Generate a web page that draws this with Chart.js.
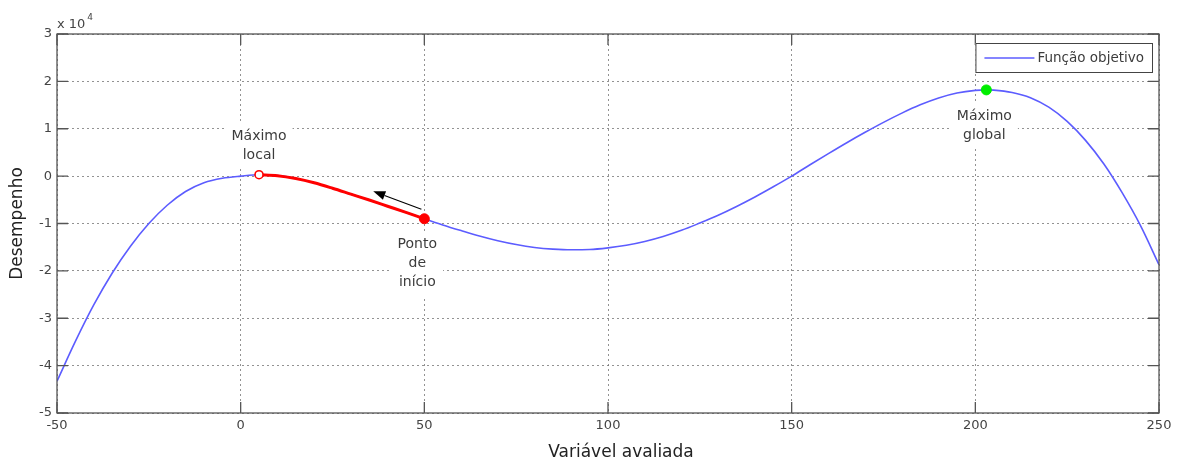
<!DOCTYPE html>
<html>
<head>
<meta charset="utf-8">
<script src="https://cdn.jsdelivr.net/npm/chart.js@4.4.1/dist/chart.umd.min.js"></script>
<style>
  html, body { margin: 0; padding: 0; background: #ffffff; }
  #wrap { width: 1178px; height: 465px; position: relative; }
</style>
</head>
<body>
<div id="wrap"><canvas id="grafico"></canvas></div>
<script>
// Variável avaliada (eixo x)
const variavel = [
  -50, -45, -40, -35, -30, -25, -20, -15, -10, -5, 0, 5, 10, 15, 20, 25, 30, 35, 40, 45,
  50, 55, 60, 65, 70, 75, 80, 85, 90, 95, 100, 105, 110, 115, 120, 125, 130, 135, 140, 145,
  150, 155, 160, 165, 170, 175, 180, 185, 190, 195, 200, 203, 205, 210, 215, 220, 225, 230,
  235, 240, 245, 250
];

// Desempenho (função objetivo)
const desempenho = [
  -43300, -34900, -27200, -20500, -14800, -10000, -6150, -3250, -1400, -450, 0, 300, 100, -500, -1400, -2550, -3800, -5050, -6350, -7650,
  -9000, -10300, -11500, -12650, -13650, -14450, -15050, -15400, -15550, -15500, -15150, -14600, -13800, -12750, -11450, -9900, -8250, -6400, -4400, -2250,
  0, 2400, 4750, 7050, 9250, 11350, 13300, 15050, 16500, 17550, 18100, 18200, 18150, 17650, 16550, 14550, 11550, 7550,
  2550, -3550, -10500, -18700
];

// Marcas dos eixos
const xTicks = [-50, 0, 50, 100, 150, 200, 250];
const yTicks = [-50000, -40000, -30000, -20000, -10000, 0, 10000, 20000, 30000];
const escalaY = 10000;

// Pontos de interesse (posição na variável avaliada)
const maximoLocalX = 5;
const inicioX = 50;
const maximoGlobalX = 203;

// Seta da busca: do ponto de início em direção ao máximo local
const setaDe = [49.2, -7000];
const setaPara = [36.1, -3200];

const nomeSerie = 'Função objetivo';
const tituloX = 'Variável avaliada';
const tituloY = 'Desempenho';

const rotuloLocal = ['Máximo', 'local'];
const rotuloInicio = ['Ponto', 'de', 'início'];
const rotuloGlobal = ['Máximo', 'global'];

// ---- montagem das séries ----
const curva = variavel.map((x, i) => ({ x, y: desempenho[i] }));
const valorEm = x => desempenho[variavel.indexOf(x)];
const caminho = curva.filter(p => p.x >= maximoLocalX && p.x <= inicioX);

const FONTE = '"DejaVu Sans", "Liberation Sans", sans-serif';
const COR_EIXO = '#555555';
const COR_TEXTO = '#3c3c3c';
const COR_CURVA = '#5c5cff';

const anotacoes = [
  { x: maximoLocalX, linhas: rotuloLocal, dx: 0, dy: -29 },
  { x: inicioX, linhas: rotuloInicio, dx: -7, dy: 45 },
  { x: maximoGlobalX, linhas: rotuloGlobal, dx: -2, dy: 36 }
];

const decoracao = {
  id: 'decoracao',
  beforeDatasetsDraw(chart) {
    const { ctx, scales: { x: sx, y: sy } } = chart;
    ctx.save();
    ctx.font = '14px ' + FONTE;
    const lh = 19;
    for (const a of anotacoes) {
      const cx = sx.getPixelForValue(a.x) + a.dx;
      const cy = sy.getPixelForValue(valorEm(a.x)) + a.dy;
      const w = Math.max(...a.linhas.map(t => ctx.measureText(t).width));
      const h = a.linhas.length * lh;
      ctx.fillStyle = '#ffffff';
      ctx.fillRect(cx - w / 2 - 6, cy - h / 2 - 4, w + 12, h + 8);
      ctx.fillStyle = COR_TEXTO;
      ctx.textAlign = 'center';
      ctx.textBaseline = 'middle';
      a.linhas.forEach((t, i) => ctx.fillText(t, cx, cy - h / 2 + lh * (i + 0.5)));
    }
    ctx.restore();
  },
  afterDatasetsDraw(chart) {
    const { ctx, chartArea: ca, scales: { x: sx, y: sy } } = chart;
    ctx.save();

    // seta
    const x0 = sx.getPixelForValue(setaDe[0]), y0 = sy.getPixelForValue(setaDe[1]);
    const x1 = sx.getPixelForValue(setaPara[0]), y1 = sy.getPixelForValue(setaPara[1]);
    const ang = Math.atan2(y1 - y0, x1 - x0);
    const comp = 12, larg = 4.5;
    const bx = x1 - comp * Math.cos(ang), by = y1 - comp * Math.sin(ang);
    ctx.strokeStyle = '#000000';
    ctx.lineWidth = 1.2;
    ctx.beginPath();
    ctx.moveTo(x0, y0);
    ctx.lineTo(bx, by);
    ctx.stroke();
    ctx.fillStyle = '#000000';
    ctx.beginPath();
    ctx.moveTo(x1, y1);
    ctx.lineTo(bx + larg * Math.sin(ang), by - larg * Math.cos(ang));
    ctx.lineTo(bx - larg * Math.sin(ang), by + larg * Math.cos(ang));
    ctx.closePath();
    ctx.fill();

    // moldura e marcas internas
    ctx.strokeStyle = COR_EIXO;
    ctx.lineWidth = 1.3;
    ctx.strokeRect(ca.left, ca.top, ca.right - ca.left, ca.bottom - ca.top);
    const t = 11;
    ctx.beginPath();
    for (const v of xTicks) {
      const p = sx.getPixelForValue(v);
      ctx.moveTo(p, ca.bottom); ctx.lineTo(p, ca.bottom - t);
      ctx.moveTo(p, ca.top); ctx.lineTo(p, ca.top + t);
    }
    for (const v of yTicks) {
      const p = sy.getPixelForValue(v);
      ctx.moveTo(ca.left, p); ctx.lineTo(ca.left + t, p);
      ctx.moveTo(ca.right, p); ctx.lineTo(ca.right - t, p);
    }
    ctx.stroke();

    // legenda
    ctx.font = '13.5px ' + FONTE;
    const tw = ctx.measureText(nomeSerie).width;
    const lw = tw + 70, lhgt = 29;
    const lx = ca.right - 7 - lw, ly = ca.top + 9;
    ctx.fillStyle = '#ffffff';
    ctx.fillRect(lx, ly, lw, lhgt);
    ctx.strokeStyle = '#444444';
    ctx.lineWidth = 1;
    ctx.strokeRect(lx + 0.5, ly + 0.5, lw, lhgt);
    const my = ly + lhgt / 2 + 0.5;
    ctx.strokeStyle = COR_CURVA;
    ctx.lineWidth = 1.6;
    ctx.beginPath();
    ctx.moveTo(lx + 9, my); ctx.lineTo(lx + 59, my);
    ctx.stroke();
    ctx.fillStyle = COR_TEXTO;
    ctx.textAlign = 'left';
    ctx.textBaseline = 'middle';
    ctx.fillText(nomeSerie, lx + 62, my);

    // multiplicador do eixo y
    ctx.fillStyle = '#444444';
    ctx.textBaseline = 'alphabetic';
    ctx.font = '13px ' + FONTE;
    const base = 'x 10';
    ctx.fillText(base, ca.left, ca.top - 6);
    const bw = ctx.measureText(base).width;
    ctx.font = '9px ' + FONTE;
    ctx.fillText(String(Math.log10(escalaY)), ca.left + bw + 2, ca.top - 14);

    // título do eixo x
    ctx.font = '17px ' + FONTE;
    ctx.fillStyle = '#222222';
    ctx.textAlign = 'center';
    ctx.textBaseline = 'middle';
    ctx.fillText(tituloX, (ca.left + ca.right) / 2 + 13, 453);

    ctx.restore();
  }
};

new Chart(document.getElementById('grafico'), {
  type: 'line',
  data: {
    datasets: [
      {
        label: 'Máximo local',
        data: [{ x: maximoLocalX, y: valorEm(maximoLocalX) }],
        showLine: false,
        pointRadius: 4,
        pointBackgroundColor: '#ffffff',
        pointBorderColor: '#ff0000',
        pointBorderWidth: 1.6,
        order: 0
      },
      {
        label: 'Ponto de início',
        data: [{ x: inicioX, y: valorEm(inicioX) }],
        showLine: false,
        pointRadius: 5,
        pointBackgroundColor: '#ff0000',
        pointBorderColor: '#ff0000',
        pointBorderWidth: 1,
        order: 0
      },
      {
        label: 'Máximo global',
        data: [{ x: maximoGlobalX, y: valorEm(maximoGlobalX) }],
        showLine: false,
        pointRadius: 5,
        pointBackgroundColor: '#00ee00',
        pointBorderColor: '#00ee00',
        pointBorderWidth: 1,
        order: 0
      },
      {
        label: 'Caminho',
        data: caminho,
        borderColor: '#ff0000',
        borderWidth: 3,
        pointRadius: 0,
        cubicInterpolationMode: 'monotone',
        fill: false,
        order: 1
      },
      {
        label: nomeSerie,
        data: curva,
        borderColor: COR_CURVA,
        borderWidth: 1.6,
        pointRadius: 0,
        cubicInterpolationMode: 'monotone',
        fill: false,
        order: 2
      }
    ]
  },
  options: {
    responsive: true,
    maintainAspectRatio: false,
    devicePixelRatio: 1,
    animation: false,
    layout: { padding: { top: 34, right: 19, left: 0, bottom: 0 } },
    plugins: {
      legend: { display: false },
      tooltip: { enabled: false }
    },
    scales: {
      x: {
        type: 'linear',
        min: -50,
        max: 250,
        afterBuildTicks: s => { s.ticks = xTicks.map(v => ({ value: v })); },
        afterFit: s => { s.height = 52; },
        grid: { color: 'rgba(110,110,110,0.75)', lineWidth: 1, drawTicks: false },
        border: { display: false, dash: [2, 3] },
        ticks: {
          padding: 5,
          color: '#444444',
          font: { family: FONTE, size: 13 },
          maxRotation: 0,
          callback: v => String(v)
        }
      },
      y: {
        type: 'linear',
        min: -50000,
        max: 30000,
        afterBuildTicks: s => { s.ticks = yTicks.map(v => ({ value: v })); },
        afterFit: s => { s.width = 57; },
        grid: { color: 'rgba(110,110,110,0.75)', lineWidth: 1, drawTicks: false },
        border: { display: false, dash: [2, 3] },
        ticks: {
          padding: 5,
          color: '#444444',
          font: { family: FONTE, size: 13 },
          callback: v => String(v / escalaY)
        },
        title: {
          display: true,
          text: tituloY,
          color: '#222222',
          font: { family: FONTE, size: 17 },
          padding: { top: 7, bottom: 0 }
        }
      }
    }
  },
  plugins: [decoracao]
});
</script>
</body>
</html>
